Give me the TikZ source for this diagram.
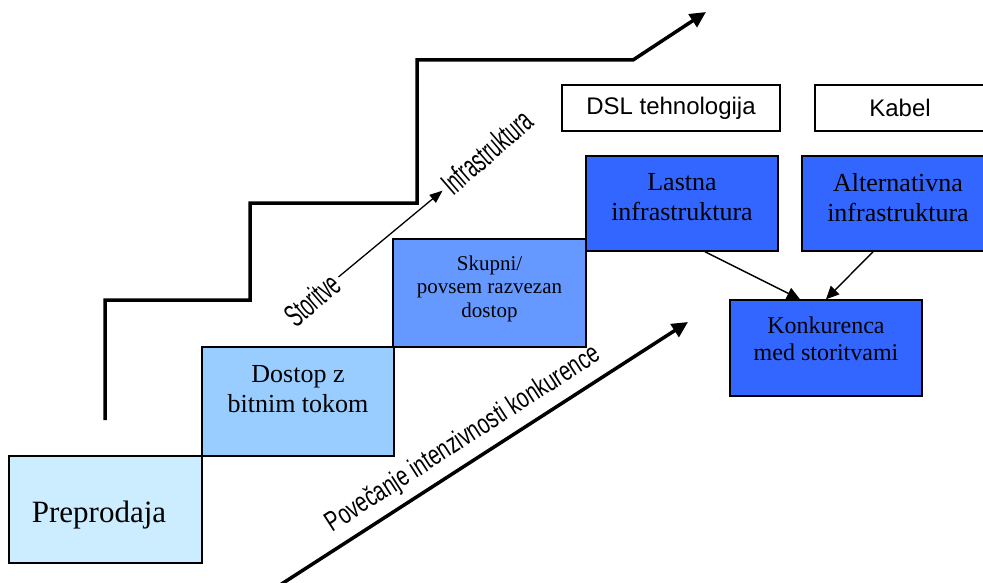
\documentclass[tikz,border=0pt]{standalone}
\usepackage{fontspec}
\setmainfont{Liberation Serif}
\newfontfamily\arial{Liberation Sans}
\usetikzlibrary{arrows.meta}
\definecolor{prepblue}{HTML}{CCECFF}
\definecolor{dostblue}{HTML}{99CCFF}
\definecolor{skupblue}{HTML}{6699FF}
\definecolor{infrablue}{HTML}{3366FF}
\begin{document}
\begin{tikzpicture}[x=1pt,y=-1pt]
	\tikzstyle{every node}=[inner sep=0pt]
	\tikzset{stepbox/.style={draw,rectangle,line width=1.5pt,minimum width=192pt}}
	\tikzset{boxtext/.style={align=center,font=\fontsize{26}{30}\selectfont}}
	\tikzset{tagbox/.style={draw,rectangle,line width=1.5pt,minimum height=46pt,font=\arial\fontsize{24}{24}\selectfont}}
	\tikzset{wordart/.style={inner sep=4pt,rotate=41,font=\arial\fontsize{32}{32}\selectfont}}
	\tikzset{thick step/.style={line width=3.5pt,-{Triangle[length=16pt,width=15pt]}}}
	\tikzset{feed/.style={line width=1.4pt,-{Triangle[length=13pt,width=12pt]}}}
	\useasboundingbox (0,0) rectangle (983,583);

	\draw[thick step] (105,420) -- (105,300) -- (250,300) -- (250,203) -- (417,203)
		-- (417,60) -- (633,60) -- (706,12);

	\node[stepbox,fill=prepblue,minimum width=193pt,minimum height=107pt] (prep) at (105.5,509.5) {};
	\node[font=\fontsize{31}{31}\selectfont,xshift=-6.5pt,yshift=-6pt] (prep-t) at (prep) {Preprodaja};

	\node[stepbox,fill=dostblue,minimum height=109pt] (dost) at (298,401.5) {};
	\node[boxtext,yshift=12pt] (dost-t) at (dost) {Dostop z\\bitnim tokom};

	\node[stepbox,fill=skupblue,minimum width=193pt,minimum height=108pt] (skup) at (489.5,293) {};
	\node[boxtext,font=\fontsize{21}{23.5}\selectfont,yshift=4.5pt] (skup-t) at (skup) {Skupni/\\povsem razvezan\\dostop};

	\node[stepbox,fill=infrablue,minimum height=95pt] (last) at (682,203.5) {};
	\node[boxtext,yshift=6pt] (last-t) at (last) {Lastna\\infrastruktura};

	\node[stepbox,fill=infrablue,minimum height=95pt] (alt) at (898,203.5) {};
	\node[boxtext,yshift=6pt] (alt-t) at (alt) {Alternativna\\infrastruktura};

	\node[stepbox,fill=infrablue,minimum height=96pt] (konk) at (826,348) {};
	\node[boxtext,font=\fontsize{24}{27}\selectfont,yshift=9.5pt] (konk-t) at (konk) {Konkurenca\\med storitvami};

	\node[tagbox,minimum width=218pt] (dsl) at (671,108) {DSL tehnologija};
	\node[tagbox,minimum width=170pt] (kabel) at (900,108) {Kabel};

	\draw[feed] ([xshift=23pt]last.south) -- ([xshift=-26pt]konk.north);
	\draw[feed] ([xshift=-25pt]alt.south) -- (konk.north);

	\node[wordart] (stor) at (312,300) {\scalebox{0.57}[1]{Storitve}};
	\node[wordart] (infra) at (487,152) {\scalebox{0.58}[1]{Infrastruktura}};
	\draw[line width=1.3pt,-{Triangle[length=13pt,width=10pt]}] (stor.east) -- (infra.west);

	\coordinate (low) at (280,585);
	\coordinate (high) at (688,322);
	\draw[thick step] (low) -- node[sloped,above=8pt,pos=0.48,font=\arial\fontsize{28}{28}\selectfont] (incr)
		{\scalebox{0.72}[1]{Povečanje intenzivnosti konkurence}} (high);
\end{tikzpicture}
\end{document}
